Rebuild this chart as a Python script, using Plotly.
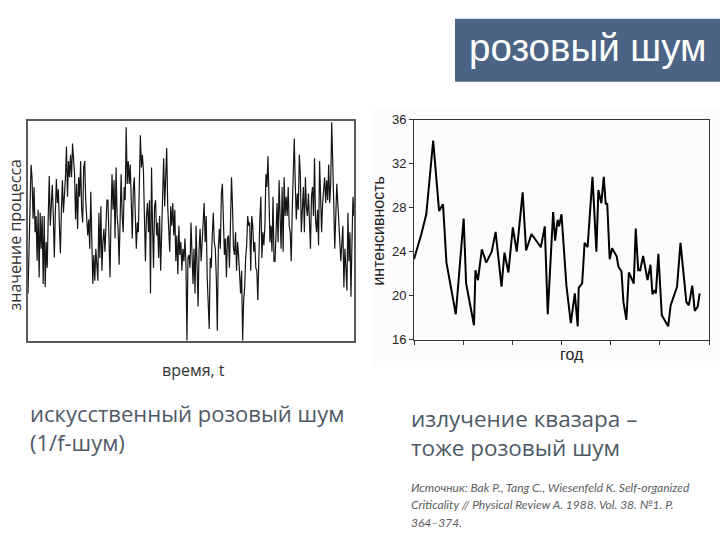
import plotly.graph_objects as go

# ---- left chart: artificial pink (1/f) noise (0..100 scale)
noise = [
    21.7, 43.6, 58, 80, 74, 55.6, 70, 49.5, 56.8, 36.6, 59.7, 29, 58.3, 42, 56.8, 26, 56.8, 24.6, 45, 33.4,
    56.8, 75, 52.4, 62.7, 71, 56.8, 38, 58.3, 73.6, 62.7, 69, 52.4, 40, 59.7, 73, 58.3, 65.6, 74.4, 88.3, 65.6,
    81.7, 74.4, 84.6, 74.4, 89.7, 83, 75.8, 55.3, 71.4, 51, 74.4, 65.6, 81.7, 59.7, 53.9, 78.8, 81.7, 64, 53.9, 48,
    55.3, 42, 67.8, 45, 26, 39.2, 27.5, 42, 32, 27.5, 58.3, 37.8, 61.2, 32, 45, 51, 40.7, 56.8, 64,
    64, 48, 29, 56.8, 75.8, 59.7, 73, 46.6, 78.8, 56.8, 51, 34.8, 56.8, 75.8, 56.8, 49.5, 70, 64, 97, 71.4,
    81.7, 71.4, 80.2, 61.2, 46.6, 68.5, 74.4, 56.8, 42, 53.9, 49.5, 71.4, 93.4, 78.8, 84.6, 77.3, 52.4, 36.3, 56.8, 62.7,
    49.5, 64, 21.7, 78.8, 52.4, 33.4, 61.2, 64, 48, 53.9, 37.8, 56.8, 32, 52.4, 71.4, 83, 61.2, 71.4, 87.6, 61.2,
    49.5, 40.7, 61.2, 52.4, 62.7, 48, 59.7, 36.3, 48, 30.5, 52.4, 39.2, 45, 32, 42, 36.3, 46.6, 34.8, 0.4, 37.8,
    39.2, 33.4, 53.9,
    39.2, 26, 42, 21.7, 52.4, 34.8, 15.8, 42, 51, 36.3, 45, 56.8, 62.7, 45, 56.8, 29, 18.7, 5.6, 37.8, 33.4,
    48, 58.3, 45, 42, 29, 4.8, 42, 51, 42, 67, 71.4, 46.6, 39.2, 46.6, 29, 46.6, 48, 33.4, 53.9, 74.4,
    61.2, 42, 39.2, 49.5, 32, 45, 39.2, 30.5, 21.7, 32, 0.4, 18.7, 24.6, 37.8, 43.6, 56.8, 52.4, 53.9, 32, 56.8,
    52.4, 40.7, 45, 33.4, 32, 18.7, 40.7, 55.3, 65.6, 37.8, 49.5, 43.6, 52.4, 75.8, 70, 83.9, 65.6, 45, 52.4, 40.7,
    65.6, 36.3,
    36.3, 52.4, 62.7, 45, 73, 56.8, 42, 70, 40.7, 74.4, 56.8, 65.6, 56.8, 70, 52.4, 49.5, 36.3, 59.7, 74.4, 92,
    71.4, 55.3, 67, 59.7, 84.6, 75.8, 49.5, 62.7, 70, 49.5, 74.4, 61.2, 56.8, 67, 53.9, 42, 65.6, 70, 56.8, 83,
    55.3, 49.5, 59.7, 43.6, 81.7, 59.7, 49.5, 62.7, 71.4, 74.4, 62.7, 73, 64, 80.2, 62.7, 71.4, 99.3, 84.6, 62.7, 42,
    59.7, 71.4, 62.7, 49.5, 45, 36.3, 45, 52.4, 24.6, 42, 33.4, 23.1, 58.3, 36.3, 49.5, 20.2, 45, 65.6, 56.8,
]
t_noise = list(range(len(noise)))

# ---- right chart: quasar emission intensity
years = [
    0.00, 0.15, 0.25, 0.39, 0.51, 0.59, 0.66, 0.85, 1.01, 1.06, 1.22, 1.25, 1.30, 1.38, 1.47, 1.58, 1.66, 1.78, 1.84, 1.92,
    2.01, 2.09, 2.21, 2.28, 2.39, 2.58, 2.66, 2.72, 2.83, 2.87, 2.92, 2.95, 3.00, 3.10, 3.19, 3.27, 3.33, 3.35, 3.42, 3.47,
    3.53, 3.63, 3.71, 3.75, 3.81, 3.86, 3.90, 3.93, 3.98, 4.03, 4.08, 4.12, 4.16, 4.22, 4.26, 4.32, 4.37, 4.47, 4.51, 4.56,
    4.60, 4.66, 4.75, 4.81, 4.85, 4.89, 4.92, 4.97, 5.04, 5.17, 5.22, 5.35, 5.42, 5.54, 5.59, 5.66, 5.71, 5.77, 5.81,
]
intensity = [
    23.3, 25.6, 27.4, 34.1, 27.7, 28.3, 23.0, 18.3, 27.0, 21.1, 17.3, 22.3, 21.4, 24.2, 23.0, 24.0, 25.8, 20.8, 23.9, 22.1,
    26.2, 24.0, 29.4, 24.1, 25.6, 24.4, 26.3, 18.3, 27.6, 25.0, 26.9, 26.3, 27.4, 20.9, 17.5, 20.2, 17.2, 20.7, 21.1, 24.8,
    24.4, 30.8, 24.0, 29.6, 28.4, 30.8, 28.3, 28.4, 23.3, 24.3, 23.9, 23.6, 22.6, 22.2, 19.4, 17.8, 22.1, 21.1, 26.1, 22.3,
    22.3, 23.6, 21.4, 22.8, 20.1, 20.5, 20.2, 23.8, 18.2, 17.2, 19.1, 20.8, 24.8, 19.4, 19.1, 20.9, 18.6, 19.0, 20.2,
]
y_ticks = [16, 20, 24, 28, 32, 36]

W, H = 720, 540
def px(x): return x / W
def py(y): return 1 - y / H

fig = go.Figure()
fig.add_trace(go.Scatter(x=t_noise, y=noise, mode="lines", line=dict(color="#151515", width=1.2),
                         xaxis="x", yaxis="y", showlegend=False, hoverinfo="skip"))
fig.add_trace(go.Scatter(x=years, y=intensity, mode="lines", line=dict(color="#000000", width=2),
                         xaxis="x2", yaxis="y2", showlegend=False, hoverinfo="skip"))

TXT = "#4e5966"
fig.update_layout(
    width=W, height=H, margin=dict(l=0, r=0, t=0, b=0),
    paper_bgcolor="white", plot_bgcolor="white",
    xaxis=dict(domain=[px(28), px(354)], range=[0, len(noise) - 1], showline=True, mirror=True,
               linecolor="#5a5a5a", linewidth=1.5, showgrid=False, zeroline=False, showticklabels=False, ticks=""),
    yaxis=dict(domain=[py(344), py(117)], range=[0, 100], showline=True, mirror=True,
               linecolor="#5a5a5a", linewidth=1.5, showgrid=False, zeroline=False, showticklabels=False, ticks=""),
    xaxis2=dict(domain=[px(414), px(709)], range=[0, 6], anchor="y2", showline=True, mirror=True,
                linecolor="#333", linewidth=1, showgrid=False, zeroline=False, showticklabels=False,
                ticks="outside", ticklen=4, tickcolor="#333", dtick=1, tick0=0),
    yaxis2=dict(domain=[py(342), py(116)], range=[16, 36], anchor="x2", showline=True, mirror=True,
                linecolor="#333", linewidth=1, showgrid=False, zeroline=False, tickvals=y_ticks,
                ticks="outside", ticklen=4, tickcolor="#333",
                tickfont=dict(family="Liberation Sans, Arial", size=13, color="#222")),
)

shapes = [
    dict(type="rect", xref="paper", yref="paper", x0=px(372), x1=1, y0=py(370), y1=py(105),
         fillcolor="#fcfcfc", line=dict(width=0), layer="below"),
    dict(type="rect", xref="paper", yref="paper", x0=px(455), x1=1, y0=py(77), y1=py(12),
         fillcolor="#4b6384", line=dict(width=0), layer="above"),
]
fig.update_layout(shapes=shapes)

ann = []
def A(text, x, y, size, family, color, xanchor="left", yanchor="middle", angle=0):
    ann.append(dict(text=text, x=px(x), y=py(y), xref="paper", yref="paper", showarrow=False,
                    xanchor=xanchor, yanchor=yanchor, textangle=angle, align="left",
                    font=dict(size=size, family=family, color=color)))

A("розовый шум", 588, 42, 38.5, "Liberation Sans, Arial", "white", xanchor="center")
A("значение процесса", 15, 235, 16, "Open Sans", "#333", xanchor="center", angle=-90)
A("время, t", 193, 373, 16, "Open Sans", "#333", xanchor="center")
A("интенсивность", 379, 230, 16, "Liberation Sans, Arial", "#222", xanchor="center", angle=-90)
A("год", 572, 357, 16, "Liberation Sans, Arial", "#222", xanchor="center")
A("искусственный розовый шум<br>(1/f-шум)", 28, 432.5, 22, "Open Sans", TXT)
A("излучение квазара –<br>тоже розовый шум", 409, 438, 22.5, "Open Sans", TXT)
A("<i>Источник: Bak P., Tang C., Wiesenfeld K. Self-organized</i>", 409, 494, 12, "Lato", "#5e5e5e")
A("<i>Criticality // Physical Review A. 1988. Vol. 38. №1. P.</i>", 409, 512, 12, "Lato", "#5e5e5e")
A("<i>364–374.</i>", 409, 530, 12, "Lato", "#5e5e5e")
fig.update_layout(annotations=ann)

fig.write_html("out.html")
